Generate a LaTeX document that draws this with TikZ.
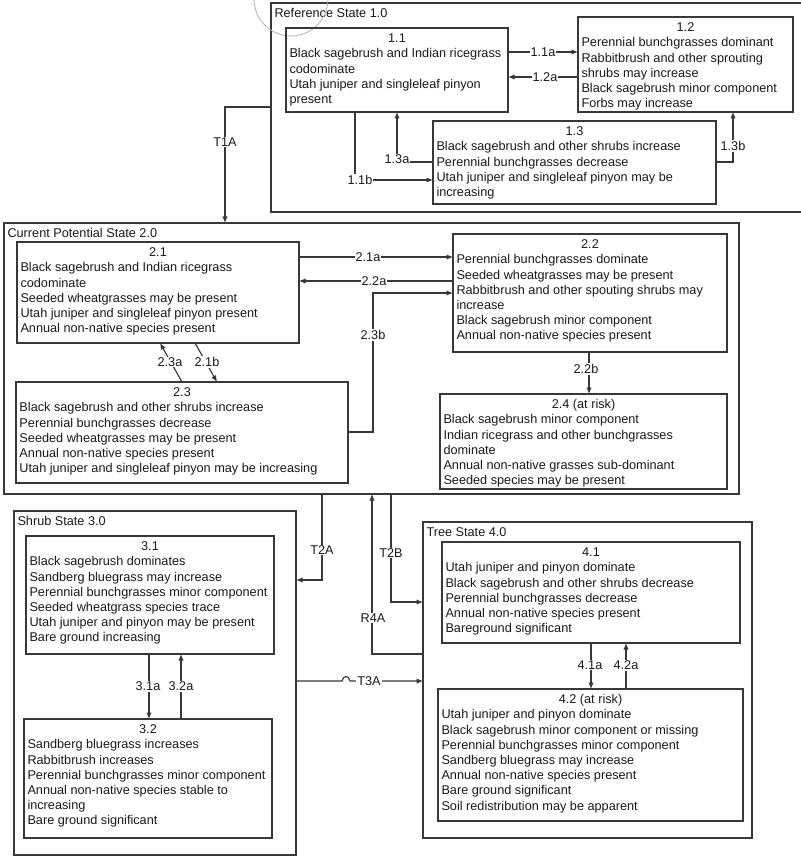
\documentclass[tikz,border=0pt]{standalone}
\usepackage{fontspec}
\setmainfont{Liberation Sans}
\usetikzlibrary{arrows.meta}
\newcommand{\txtfont}{\fontsize{12.7}{15.2}\selectfont}
\newcommand{\stbox}[6]{%
  \pgfmathsetmacro{\bw}{#4-#2-7}%
  \pgfmathsetmacro{\bh}{#5-#3-8}%
  \node[stb, anchor=north west] (#1) at (#2,#3) {\parbox[t][\bh pt][t]{\bw pt}{\strut #6}};%
}
\tikzset{
  stb/.style={draw=black!78, line width=1.15pt, inner xsep=3.5pt, inner ysep=4pt, outer sep=0pt, text=black!90, font=\txtfont},
  arr/.style={draw=black!78, line width=1.15pt, -{Latex[length=6.5pt,width=5.5pt]}},
  lbl/.style={fill=white, inner sep=1pt, text=black!90, font=\txtfont},
}
\begin{document}
\begin{tikzpicture}[x=1pt,y=-1pt]
\useasboundingbox (0,0) rectangle (800,858);
\fill[white] (0,0) rectangle (800,858);
% containers
\stbox{ref}{271}{3}{802}{212}{\raggedright Reference State 1.0}
\stbox{n20}{4}{223}{739}{494}{\raggedright Current Potential State 2.0}
\stbox{n30}{14}{511}{296}{855}{\raggedright Shrub State 3.0}
\stbox{n40}{423}{522}{752}{838}{\raggedright Tree State 4.0}
\draw[black!30, line width=0.8pt] (291,-1) circle[radius=37pt];
% state 1
\stbox{n11}{286}{28}{508}{112}{\centering 1.1\par\raggedright Black sagebrush and Indian ricegrass\\codominate\\Utah juniper and singleleaf pinyon\\present}
\stbox{n12}{578}{17}{793}{112}{\centering 1.2\par\raggedright Perennial bunchgrasses dominant\\Rabbitbrush and other sprouting\\shrubs may increase\\Black sagebrush minor component\\Forbs may increase}
\stbox{n13}{433}{121}{716}{204}{\centering 1.3\par\raggedright Black sagebrush and other shrubs increase\\Perennial bunchgrasses decrease\\Utah juniper and singleleaf pinyon may be\\increasing}
% state 2
\stbox{n21}{17}{242}{299}{343}{\centering 2.1\par\raggedright Black sagebrush and Indian ricegrass\\codominate\\Seeded wheatgrasses may be present\\Utah juniper and singleleaf pinyon present\\Annual non-native species present}
\stbox{n22}{453}{234}{727}{352}{\centering 2.2\par\raggedright Perennial bunchgrasses dominate\\Seeded wheatgrasses may be present\\Rabbitbrush and other spouting shrubs may\\increase\\Black sagebrush minor component\\Annual non-native species present}
\stbox{n23}{16}{382}{348}{483}{\centering 2.3\par\raggedright Black sagebrush and other shrubs increase\\Perennial bunchgrasses decrease\\Seeded wheatgrasses may be present\\Annual non-native species present\\Utah juniper and singleleaf pinyon may be increasing}
\stbox{n24}{440}{394}{727}{489}{\centering 2.4 (at risk)\par\raggedright Black sagebrush minor component\\Indian ricegrass and other bunchgrasses\\dominate\\Annual non-native grasses sub-dominant\\Seeded species may be present}
% state 3
\stbox{n31}{26}{536}{274}{654}{\centering 3.1\par\raggedright Black sagebrush dominates\\Sandberg bluegrass may increase\\Perennial bunchgrasses minor component\\Seeded wheatgrass species trace\\Utah juniper and pinyon may be present\\Bare ground increasing}
\stbox{n32}{24}{719}{272}{838}{\centering 3.2\par\raggedright Sandberg bluegrass increases\\Rabbitbrush increases\\Perennial bunchgrasses minor component\\Annual non-native species stable to\\increasing\\Bare ground significant}
% state 4
\stbox{n41}{442}{542}{740}{643}{\centering 4.1\par\raggedright Utah juniper and pinyon dominate\\Black sagebrush and other shrubs decrease\\Perennial bunchgrasses decrease\\Annual non-native species present\\Bareground significant}
\stbox{n42}{438}{689}{743}{821}{\centering 4.2 (at risk)\par\raggedright Utah juniper and pinyon dominate\\Black sagebrush minor component or missing\\Perennial bunchgrasses minor component\\Sandberg bluegrass may increase\\Annual non-native species present\\Bare ground significant\\Soil redistribution may be apparent}
% connectors state 1
\draw[arr] (n11.east |- 0,52) -- (n12.west |- 0,52);
\node[lbl] (l11a) at (543,52) {1.1a};
\draw[arr] (n12.west |- 0,77) -- (n11.east |- 0,77);
\node[lbl] (l12a) at (545,77) {1.2a};
\draw[arr] (n13.west |- 0,162) -| (397,0 |- n11.south);
\node[lbl] (l13a) at (397,159) {1.3a};
\draw[arr] (355,0 |- n11.south) |- (n13.west |- 0,180);
\node[lbl] (l11b) at (360,180) {1.1b};
\draw[arr] (n13.east |- 0,162) -| (733,0 |- n12.south);
\node[lbl] (l13b) at (733,146) {1.3b};
\draw[arr] (ref.west |- 0,107) -| (225,0 |- n20.north);
\node[lbl] (lT1A) at (225,142) {T1A};
% connectors state 2
\draw[arr] (n21.east |- 0,257) -- (n22.west |- 0,257);
\node[lbl] (l21a) at (368,257) {2.1a};
\draw[arr] (n22.west |- 0,281) -- (n21.east |- 0,281);
\node[lbl] (l22a) at (374,281) {2.2a};
\draw[arr] (n23.east |- 0,432) -| (373,293) -- (n22.west |- 0,293);
\node[lbl] (l23b) at (373,335) {2.3b};
\draw[arr] (182,0 |- n23.north) -- (160,0 |- n21.south);
\node[lbl] (l23a) at (170,362) {2.3a};
\draw[arr] (195,0 |- n21.south) -- (217,0 |- n23.north);
\node[lbl] (l21b) at (207,362) {2.1b};
\draw[arr] (589,0 |- n22.south) -- (589,0 |- n24.north);
\node[lbl] (l22b) at (586,369) {2.2b};
% transitions
\draw[arr] (322,0 |- n20.south) |- (n30.east |- 0,580);
\node[lbl] (lT2A) at (322,550) {T2A};
\draw[arr] (391,0 |- n20.south) |- (n40.west |- 0,602);
\node[lbl] (lT2B) at (391,553) {T2B};
\draw[arr] (n40.west |- 0,654) -| (372,0 |- n20.south);
\node[lbl] (lR4A) at (373,618) {R4A};
\draw[arr] (n30.east |- 0,681) -- (342,681) .. controls (343,675) and (349,675) .. (350,681) -- (n40.west |- 0,681);
\node[lbl] (lT3A) at (369,681) {T3A};
% connectors state 3
\draw[arr] (149,0 |- n31.south) -- (149,0 |- n32.north);
\node[lbl] (l31a) at (148,686) {3.1a};
\draw[arr] (181,0 |- n32.north) -- (181,0 |- n31.south);
\node[lbl] (l32a) at (181,686) {3.2a};
% connectors state 4
\draw[arr] (591,0 |- n41.south) -- (591,0 |- n42.north);
\node[lbl] (l41a) at (590,665) {4.1a};
\draw[arr] (626,0 |- n42.north) -- (626,0 |- n41.south);
\node[lbl] (l42a) at (626,665) {4.2a};
\end{tikzpicture}
\end{document}
